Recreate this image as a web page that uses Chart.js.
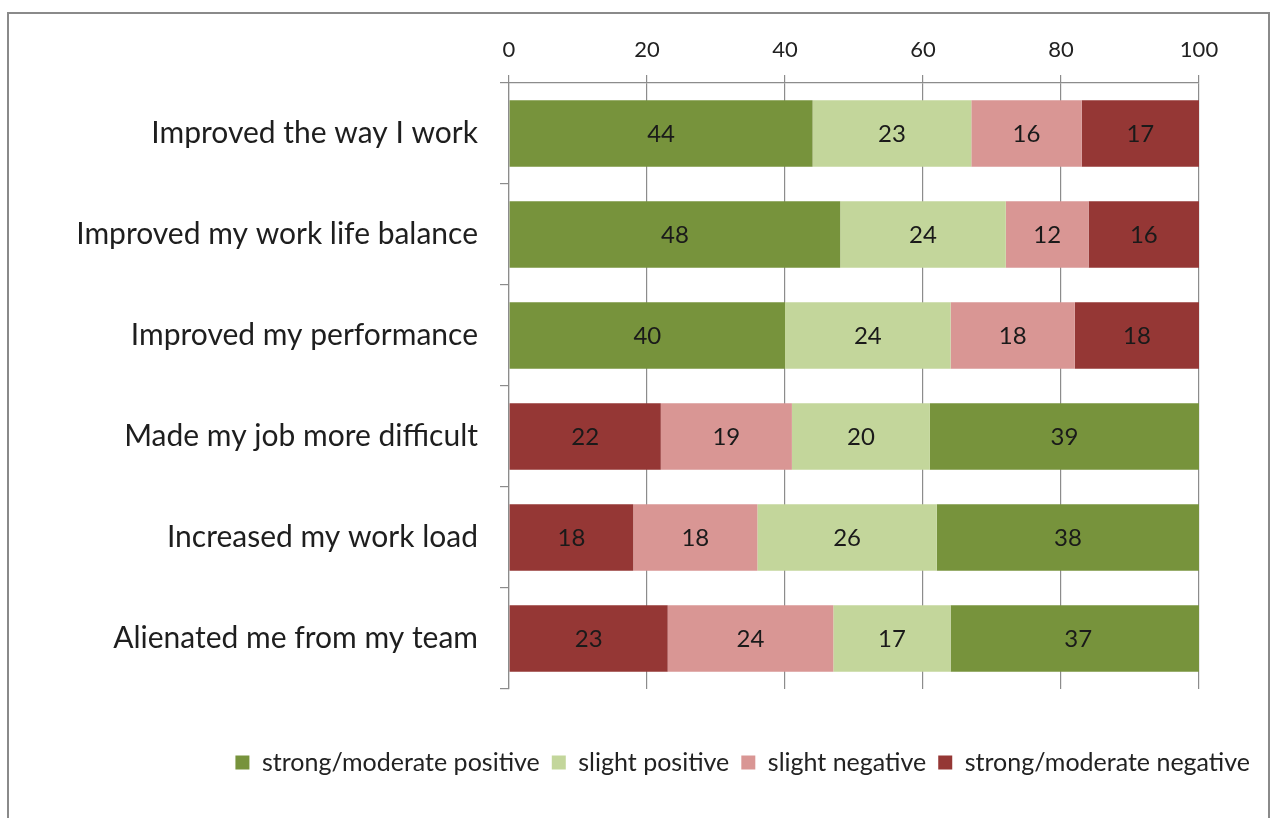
<!DOCTYPE html>
<html>
<head>
<meta charset="utf-8">
<script src="https://cdn.jsdelivr.net/npm/chart.js@4"></script>
<style>
  html, body { margin: 0; padding: 0; background: #fff; }
  #wrap { position: relative; width: 1273px; height: 818px; }
  #frame {
    position: absolute; left: 7px; top: 12px; width: 1259px; height: 820px;
    border: 2px solid #8a8a8a; border-bottom: none;
  }
  #chart { position: absolute; left: 0; top: 0; }
</style>
</head>
<body>
<div id="wrap">
  <div id="frame"></div>
  <canvas id="chart" width="1273" height="818"></canvas>
</div>
<script>
// survey answers, percent of respondents
const categories = [
    'Improved the way I work',
    'Improved my work life balance',
    'Improved my performance',
    'Made my job more difficult',
    'Increased my work load',
    'Alienated me from my team'
];
const strongPositive = [44, 48, 40, 39, 38, 37];
const slightPositive = [23, 24, 24, 20, 26, 17];
const slightNegative = [16, 12, 18, 19, 18, 24];
const strongNegative = [17, 16, 18, 22, 18, 23];
// negative statements start the bar with the negative answers
const negativeFirst = [false, false, false, true, true, true];
const xTicks = [0, 20, 40, 60, 80, 100];

const series = {
    strongPositive: { label: 'strong/moderate positive', data: strongPositive, color: '#77933C' },
    slightPositive: { label: 'slight positive', data: slightPositive, color: '#C3D69B' },
    slightNegative: { label: 'slight negative', data: slightNegative, color: '#D99694' },
    strongNegative: { label: 'strong/moderate negative', data: strongNegative, color: '#953735' }
};

function buildDatasets() {
    const posOrder = ['strongPositive', 'slightPositive', 'slightNegative', 'strongNegative'];
    const negOrder = ['strongNegative', 'slightNegative', 'slightPositive', 'strongPositive'];
    const out = [];
    posOrder.forEach(key => {
        const s = series[key];
        out.push({
            label: s.label,
            data: s.data.map((v, i) => negativeFirst[i] ? null : v),
            backgroundColor: s.color,
            xAxisID: 'x',
            yAxisID: 'y'
        });
    });
    negOrder.forEach(key => {
        const s = series[key];
        out.push({
            label: s.label,
            data: s.data.map((v, i) => negativeFirst[i] ? v : null),
            backgroundColor: s.color,
            xAxisID: 'x',
            yAxisID: 'y'
        });
    });
    return out;
}

const FONT = 'Lato, "Open Sans", sans-serif';
const GRID = '#8c8c8c';

// value labels in the middle of each segment
const segmentLabels = {
    id: 'segmentLabels',
    afterDatasetsDraw(chart) {
        const ctx = chart.ctx;
        ctx.save();
        ctx.font = '24px ' + FONT;
        ctx.fillStyle = '#1a1a1a';
        ctx.textAlign = 'center';
        ctx.textBaseline = 'middle';
        chart.data.datasets.forEach((ds, di) => {
            const meta = chart.getDatasetMeta(di);
            meta.data.forEach((bar, i) => {
                const v = ds.data[i];
                if (v === null || v === undefined) return;
                const c = bar.getCenterPoint();
                ctx.fillText(String(v), c.x, c.y + 1);
            });
        });
        ctx.restore();
    }
};

new Chart(document.getElementById('chart'), {
    type: 'bar',
    data: {
        labels: categories,
        datasets: buildDatasets()
    },
    options: {
        indexAxis: 'y',
        responsive: false,
        animation: false,
        layout: { padding: { left: 0, right: 11, top: 0, bottom: 33 } },
        datasets: {
            bar: { categoryPercentage: 1, barPercentage: 0.66, borderWidth: 0 }
        },
        scales: {
            x: {
                position: 'top',
                stacked: true,
                min: 0,
                max: 100,
                afterBuildTicks: scale => { scale.ticks = xTicks.map(v => ({ value: v })); },
                afterFit: scale => { scale.height = 83; },
                grid: { color: GRID, lineWidth: 1.2, tickLength: 8 },
                border: { color: GRID, width: 1.2 },
                ticks: { color: '#222', font: { family: FONT, size: 22 }, padding: 12 }
            },
            y: {
                stacked: true,
                afterFit: scale => { scale.width = 509; },
                grid: { drawOnChartArea: false, offset: true, color: GRID, lineWidth: 1.2, tickLength: 9 },
                border: { color: GRID, width: 1.2 },
                ticks: { color: '#1e1e1e', font: { family: FONT, size: 30 }, padding: 22 }
            },
            // empty strip on the right so the legend can run past the plot
            yRight: {
                axis: 'y',
                type: 'linear',
                position: 'right',
                min: 0,
                max: 1,
                afterFit: scale => { scale.width = 63; },
                grid: { display: false },
                border: { display: false },
                ticks: { display: false }
            }
        },
        plugins: {
            tooltip: { enabled: false },
            legend: {
                position: 'bottom',
                align: 'end',
                title: { display: true, text: ' ', padding: { top: 0, bottom: 25 }, font: { size: 20 } },
                labels: {
                    color: '#222',
                    font: { family: FONT, size: 25 },
                    boxWidth: 14,
                    boxHeight: 14,
                    padding: 12,
                    filter: item => item.datasetIndex < 4
                }
            }
        }
    },
    plugins: [segmentLabels]
});
</script>
</body>
</html>
